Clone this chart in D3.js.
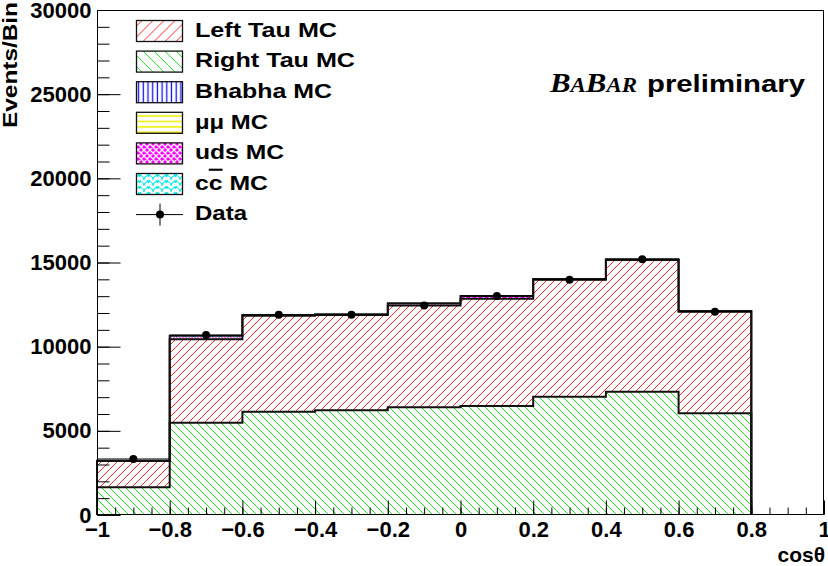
<!DOCTYPE html>
<html>
<head>
<meta charset="utf-8">
<script src="https://cdn.jsdelivr.net/npm/d3@7"></script>
<style>
body { margin: 0; background: #fff; }
svg { display: block; font-family: "Liberation Sans", Arial, sans-serif; font-weight: bold; }
</style>
</head>
<body>
<div id="vis"></div>
<script>
// cos(theta) bin edges and stacked MC contributions per bin
const binEdges = [-1, -0.8, -0.6, -0.4, -0.2, 0, 0.2, 0.4, 0.6, 0.8];
const rightTau = [1645, 5484, 6138, 6217, 6400, 6475, 7027, 7324, 6041];
const leftTau = [1570, 4953, 5702, 5663, 6040, 6365, 6953, 7826, 6039];
const bhabha = [3, 40, 5, 5, 30, 30, 5, 5, 5];
const mumu = [2, 20, 5, 5, 20, 20, 5, 5, 5];
const uds = [5, 80, 15, 15, 45, 60, 15, 15, 15];
const ccbar = [5, 70, 15, 15, 40, 60, 15, 15, 15];
const dataCounts = [3326, 10690, 11900, 11900, 12450, 13010, 13978, 15190, 12078];

const yTicks = [0, 5000, 10000, 15000, 20000, 25000, 30000];
const xTicks = [-1, -0.8, -0.6, -0.4, -0.2, 0, 0.2, 0.4, 0.6, 0.8, 1];

// legend labels; the second c of "c cbar" gets an overline
const legendLabels = ["Left Tau MC", "Right Tau MC", "Bhabha MC", "\u03bc\u03bc MC", "uds MC", ["c", "c", " MC"], "Data"];

let width = 828, height = 566;
let margins = { top: 10, right: 4, bottom: 51, left: 97 };

const svg = d3.select("#vis").append("svg").attr("width", width).attr("height", height);

const x = d3.scaleLinear().domain([-1, 1]).range([margins.left, width - margins.right]);
const y = d3.scaleLinear().domain([0, 30000]).range([height - margins.bottom, margins.top]);

const RED = "#ff2a2a", GREEN = "#1fe01f";

// patterns for the small backgrounds
const defs = svg.append("defs");
function pattern(id, size, path, color, sw, bg) {
    const p = defs.append("pattern").attr("id", id).attr("patternUnits", "userSpaceOnUse")
        .attr("width", size[0]).attr("height", size[1]);
    if (bg) p.append("rect").attr("width", size[0]).attr("height", size[1]).style("fill", bg);
    p.append("path").attr("d", path).style("stroke", color).style("stroke-width", sw).style("fill", "none");
}
pattern("hB", [4.7, 10], "M2.3,0L2.3,10", "#1010ff", 1.3);
pattern("hM", [10, 5.4], "M0,2.7L10,2.7", "#f0f000", 1.5);
pattern("hU", [6, 6], "M0,0L6,6M6,0L0,6M-1,5L1,7M5,-1L7,1", "#fff", 1.3, "#ff00ff");
pattern("hC", [9, 6], "M0,6A4.5,4.5 0 0 1 9,6M-4.5,3A4.5,4.5 0 0 1 4.5,3M4.5,3A4.5,4.5 0 0 1 13.5,3", "#00e8e8", 1.1);

// diagonal hatching drawn as clipped lines (dir 1 = "/", -1 = "\")
function hatchLines(g, x0, y0, x1, y1, period, dir, color) {
    const H = y1 - y0;
    const start = Math.floor((x0 - H) / period) * period;
    for (let c = start; c <= x1; c += period) {
        g.append("line")
            .attr("x1", c).attr("y1", dir > 0 ? y1 : y0)
            .attr("x2", c + H).attr("y2", dir > 0 ? y0 : y1)
            .attr("stroke", color).attr("stroke-width", 1);
    }
}

const keys = ["right", "left", "bhabha", "mumu", "uds", "ccbar"];
const fills = { bhabha: "hB", mumu: "hM", uds: "hU", ccbar: "hC" };
const table = rightTau.map((v, i) => ({
    lo: binEdges[i], hi: binEdges[i + 1],
    right: v, left: leftTau[i], bhabha: bhabha[i], mumu: mumu[i], uds: uds[i], ccbar: ccbar[i]
}));
const stacked = d3.stack().keys(keys)(table);

const plot = svg.append("g");
function binRects(sel, layer) {
    sel.selectAll("rect").data(layer).enter().append("rect")
        .attr("x", d => x(d.data.lo))
        .attr("width", d => x(d.data.hi) - x(d.data.lo))
        .attr("y", d => y(d[1]))
        .attr("height", d => y(d[0]) - y(d[1]));
}
stacked.forEach(layer => {
    if (fills[layer.key]) {
        binRects(plot.append("g").attr("fill", "url(#" + fills[layer.key] + ")"), layer);
    } else {
        const cid = "clip-" + layer.key;
        binRects(defs.append("clipPath").attr("id", cid), layer);
        const hg = plot.append("g").attr("clip-path", "url(#" + cid + ")");
        hatchLines(hg, x(-1), y(30000), x(1), y(0), 8,
            layer.key === "left" ? 1 : -1, layer.key === "left" ? RED : GREEN);
    }
});

// histogram outlines
const stepLine = d3.line().x(p => x(p[0])).y(p => y(p[1])).curve(d3.curveStepAfter);
function outline(layer) {
    const pts = [[layer[0].data.lo, 0]];
    layer.forEach(d => pts.push([d.data.lo, d[1]]));
    const last = layer[layer.length - 1];
    pts.push([last.data.hi, last[1]]);
    pts.push([last.data.hi, 0]);
    return stepLine(pts);
}
[stacked[0], stacked[1], stacked[stacked.length - 1]].forEach(layer => {
    plot.append("path").attr("d", outline(layer)).attr("fill", "none")
        .attr("stroke", "#111").attr("stroke-width", 2);
});

// data points
const dataG = svg.append("g");
dataCounts.forEach((n, i) => {
    const cx = x((binEdges[i] + binEdges[i + 1]) / 2);
    const err = Math.sqrt(n);
    dataG.append("line").attr("x1", x(binEdges[i])).attr("x2", x(binEdges[i + 1]))
        .attr("y1", y(n)).attr("y2", y(n)).attr("stroke", "#000").attr("stroke-width", 1);
    dataG.append("line").attr("x1", cx).attr("x2", cx)
        .attr("y1", y(n + err)).attr("y2", y(n - err)).attr("stroke", "#000").attr("stroke-width", 1);
    dataG.append("circle").attr("cx", cx).attr("cy", y(n)).attr("r", 4).attr("fill", "#000");
});

// frame
svg.append("rect").attr("x", margins.left + 0.5).attr("y", margins.top + 0.5)
    .attr("width", width - margins.left - margins.right - 1).attr("height", height - margins.top - margins.bottom - 1)
    .attr("fill", "none").attr("stroke", "#000").attr("stroke-width", 1);

// axes
const fmt = d3.format("");
svg.append("g").attr("transform", "translate(" + (margins.left + 0.5) + ",0)")
    .call(d3.axisLeft(y).tickValues(yTicks).tickSize(-23).tickPadding(6).tickFormat(fmt));
svg.append("g").attr("transform", "translate(" + (margins.left + 0.5) + ",0)")
    .call(d3.axisLeft(y).tickValues(y.ticks(30)).tickSize(-12).tickFormat(""));
svg.append("g").attr("transform", "translate(0," + (height - margins.bottom - 0.5) + ")")
    .call(d3.axisBottom(x).tickValues(xTicks).tickSize(-14).tickPadding(7).tickFormat(fmt));
svg.append("g").attr("transform", "translate(0," + (height - margins.bottom - 0.5) + ")")
    .call(d3.axisBottom(x).tickValues(x.ticks(40)).tickSize(-7).tickFormat(""));
svg.selectAll(".domain").remove();
svg.selectAll(".tick line").attr("stroke", "#000").attr("stroke-width", 1);
svg.selectAll(".tick text").attr("fill", "#000").style("font-size", "22px").style("font-family", "Liberation Sans, Arial, sans-serif").style("font-weight", "bold");

// axis titles
svg.append("text").attr("transform", "translate(17,2) rotate(-90)")
    .attr("text-anchor", "end").style("font-size", "21px")
    .attr("textLength", 126).attr("lengthAdjust", "spacingAndGlyphs").text("Events/Bin");
svg.append("text").attr("x", 825).attr("y", 562).attr("text-anchor", "end")
    .style("font-size", "21px").text("cos\u03b8");

// BaBar label
const babar = svg.append("text").attr("x", 550).attr("y", 92)
    .style("font-family", "Liberation Serif, Times New Roman, serif").style("font-style", "italic").style("font-weight", "bold");
[["B", 27], ["A", 20], ["B", 27], ["AR", 20]].forEach(p => {
    babar.append("tspan").style("font-size", p[1] + "px").text(p[0]);
});
babar.attr("textLength", 87).attr("lengthAdjust", "spacingAndGlyphs");
svg.append("text").attr("x", 647).attr("y", 92).style("font-size", "23px")
    .attr("textLength", 158).attr("lengthAdjust", "spacingAndGlyphs").text("preliminary");

// legend
const legendFills = ["left", "right", "hB", "hM", "hU", "hC"];
const labelWidths = [142, 160, 137, 73, 89, 73, 52];
const legend = svg.append("g");
legendLabels.forEach((lab, i) => {
    const top = 20 + i * 30.6;
    if (i < legendFills.length) {
        const bx = 136.5, by = top + 0.5, bw = 46, bh = 21;
        if (i < 2) {
            const cid = "lclip" + i;
            defs.append("clipPath").attr("id", cid).append("rect")
                .attr("x", bx).attr("y", by).attr("width", bw).attr("height", bh);
            const hg = legend.append("g").attr("clip-path", "url(#" + cid + ")");
            hatchLines(hg, bx, by, bx + bw, by + bh, 11, i === 0 ? 1 : -1, i === 0 ? RED : GREEN);
        }
        legend.append("rect").attr("x", bx).attr("y", by).attr("width", bw).attr("height", bh)
            .attr("fill", i < 2 ? "none" : "url(#" + legendFills[i] + ")")
            .attr("stroke", "#111").attr("stroke-width", 1.3);
    } else {
        const cy = top + 11;
        legend.append("line").attr("x1", 136).attr("x2", 183).attr("y1", cy).attr("y2", cy).attr("stroke", "#000");
        legend.append("line").attr("x1", 160).attr("x2", 160).attr("y1", cy - 11).attr("y2", cy + 11).attr("stroke", "#000");
        legend.append("circle").attr("cx", 160).attr("cy", cy).attr("r", 4).attr("fill", "#000");
    }
    const t = legend.append("text").attr("x", 195).attr("y", top + 16.7).style("font-size", "21px")
        .attr("textLength", labelWidths[i]).attr("lengthAdjust", "spacingAndGlyphs");
    if (Array.isArray(lab)) {
        lab.forEach((part, k) => {
            const ts = t.append("tspan").text(part);
            if (k === 1) ts.style("text-decoration", "overline");
        });
    } else {
        t.text(lab);
    }
});
</script>
</body>
</html>
